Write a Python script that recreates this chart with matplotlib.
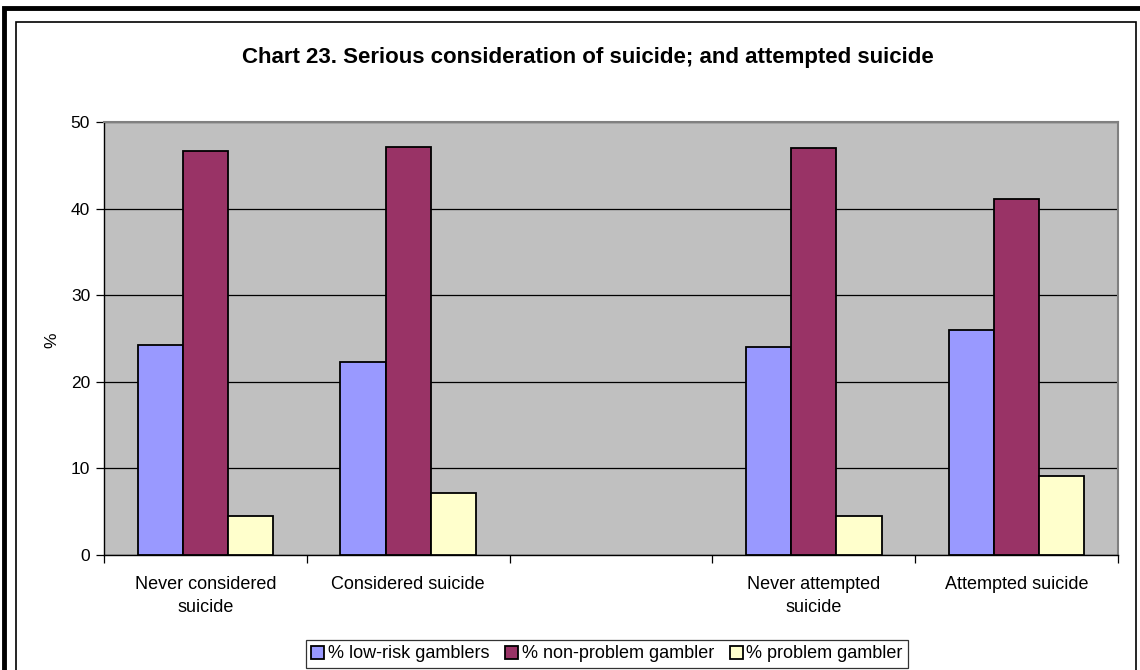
import numpy as np
import matplotlib.pyplot as plt
from matplotlib.patches import Rectangle

plt.rcParams['font.family'] = ['Liberation Sans', 'DejaVu Sans']

# data
categories = ['Never considered\nsuicide', 'Considered suicide', '',
              'Never attempted\nsuicide', 'Attempted suicide']
low_risk = [24.3, 22.3, np.nan, 24.0, 26.0]
non_problem = [46.7, 47.1, np.nan, 47.0, 41.1]
problem = [4.5, 7.2, np.nan, 4.5, 9.1]
series_names = ['% low-risk gamblers', '% non-problem gambler', '% problem gambler']
colors = ['#9999FF', '#993366', '#FFFFCC']

W, H = 1140, 670
fig = plt.figure(figsize=(W / 100, H / 100), dpi=100)
ax = fig.add_axes([104 / W, 1 - 555 / H, (1118 - 104) / W, (555 - 122) / H])

x = np.arange(len(categories))
w = 0.223
for i, (vals, name, c) in enumerate(zip([low_risk, non_problem, problem], series_names, colors)):
    ax.bar(x + (i - 1) * w, vals, w, color=c, edgecolor='black', linewidth=1.3,
           label=name, zorder=3)

ax.set_facecolor('#C0C0C0')
ax.set_xlim(-0.5, len(categories) - 0.5)
ax.set_ylim(0, 50)
ax.set_yticks(range(0, 51, 10))
ax.yaxis.grid(True, color='black', linewidth=0.9, zorder=1)
ax.set_axisbelow(True)

# category labels centred, ticks on boundaries
ax.set_xticks(x)
ax.set_xticklabels(categories, fontsize=13, linespacing=1.45)
ax.tick_params(axis='x', length=0, pad=15)
ax.set_xticks(np.arange(-0.5, len(categories) + 0.5, 1), minor=True)
ax.tick_params(axis='x', which='minor', length=6, width=0.9, direction='out')
ax.tick_params(axis='y', length=6, width=0.9, direction='out', labelsize=12.5, pad=4)
ax.set_ylabel('%', fontsize=12.5)
ax.yaxis.set_label_coords((59 - 104) / (1118 - 104), (555 - 340) / (555 - 122))

for s in ['top', 'right']:
    ax.spines[s].set_color('#808080')
    ax.spines[s].set_linewidth(1.5)
for s in ['left', 'bottom']:
    ax.spines[s].set_color('black')
    ax.spines[s].set_linewidth(1.0)

fig.text(588 / W, 1 - 57 / H, 'Chart 23. Serious consideration of suicide; and attempted suicide',
         ha='center', va='center', fontsize=16, fontweight='bold')

leg = fig.legend(loc='center', bbox_to_anchor=(607 / W, 1 - 654 / H), ncol=3,
                 fontsize=13, frameon=True, fancybox=False, edgecolor='black',
                 handlelength=0.7, handleheight=0.7, handletextpad=0.2,
                 columnspacing=0.9, borderpad=0.3, borderaxespad=0)
leg.get_frame().set_linewidth(0.9)

# frames around the chart
fig.patches.append(Rectangle((16 / W, -0.05), (1136 - 16) / W, 1 - 22 / H + 0.05,
                             transform=fig.transFigure, fill=False, edgecolor='black',
                             linewidth=1.2))
fig.patches.append(Rectangle((4 / W, -0.05), 1.2, 1 - 8 / H + 0.05,
                             transform=fig.transFigure, fill=False, edgecolor='black',
                             linewidth=3.5))

fig.savefig('out.png', dpi=100)
